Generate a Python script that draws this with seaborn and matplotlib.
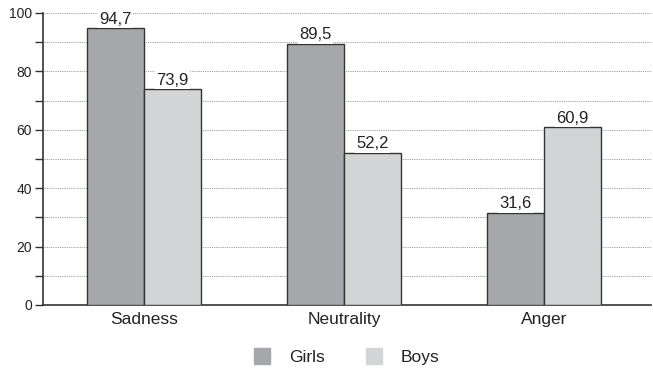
import matplotlib
matplotlib.use("Agg")
import matplotlib.pyplot as plt
import seaborn as sns
import pandas as pd
from matplotlib.ticker import MultipleLocator
from matplotlib.lines import Line2D

emotions = ["Sadness", "Neutrality", "Anger"]
girls = [94.7, 89.5, 31.6]
boys = [73.9, 52.2, 60.9]
groups = ["Girls", "Boys"]
colors = {"Girls": "#a6a7aa", "Boys": "#d3d4d6"}

df = pd.DataFrame({
    "emotion": emotions * 2,
    "value": girls + boys,
    "group": ["Girls"] * 3 + ["Boys"] * 3,
})

sns.set_style("white")
plt.rcParams["font.family"] = ["Liberation Sans", "DejaVu Sans"]

fig = plt.figure(figsize=(6.53, 3.71), dpi=100)
ax = fig.add_axes([43 / 653, 1 - 305 / 371, 608 / 653, 292 / 371])

sns.barplot(data=df, x="emotion", y="value", hue="group", order=emotions,
            hue_order=groups, palette=colors, width=0.57, edgecolor="#333333",
            linewidth=1.0, saturation=1, ax=ax, legend=False, zorder=3)

ax.set_xlim(-0.505, 2.535)
ax.set_ylim(0, 100)
ax.yaxis.set_major_locator(MultipleLocator(20))
ax.yaxis.set_minor_locator(MultipleLocator(10))
ax.grid(axis="y", which="both", linestyle=(0, (1, 1.2)), color="#808080",
        linewidth=0.6, zorder=0)
ax.set_axisbelow(True)

for s in ["top", "right"]:
    ax.spines[s].set_visible(False)
for s in ["left", "bottom"]:
    ax.spines[s].set_color("#333333")
    ax.spines[s].set_linewidth(1.2)

ax.tick_params(axis="y", which="both", left=True, length=6, width=1.0,
               color="#333333", labelsize=10, labelcolor="#222222", pad=2)
ax.tick_params(axis="x", length=0, labelsize=12.5, labelcolor="#222222", pad=5)
ax.set_xlabel("")
ax.set_ylabel("")

for container in ax.containers:
    labels = [f"{v:.1f}".replace(".", ",") for v in container.datavalues]
    texts = ax.bar_label(container, labels=labels, padding=1, fontsize=12,
                         color="#222222")
    for t in texts:
        t.set_bbox(dict(facecolor="white", edgecolor="none", pad=1.0))
        t.set_zorder(4)

handles = [Line2D([0], [0], marker="s", linestyle="none", markersize=11,
                  markerfacecolor=colors[g], markeredgecolor=colors[g])
           for g in groups]
fig.legend(handles, groups, loc="center", bbox_to_anchor=(342 / 653, 1 - 357 / 371),
           ncol=2, frameon=False, fontsize=12.5, handletextpad=0.55,
           columnspacing=1.85, labelcolor="#222222")

fig.savefig("out.png", dpi=100)
